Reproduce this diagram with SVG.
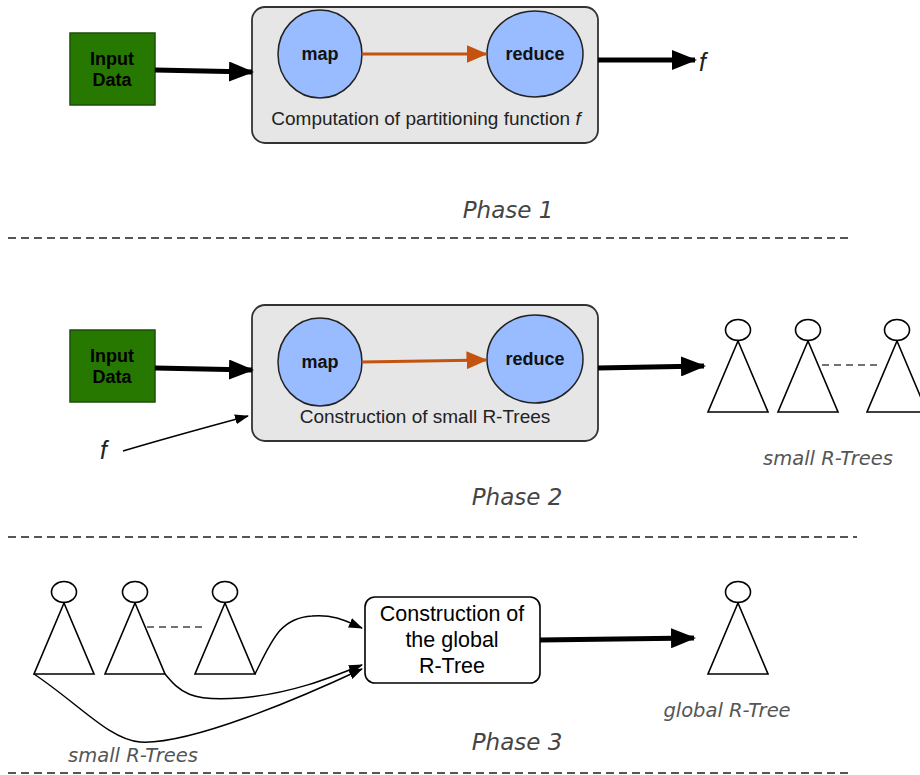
<svg xmlns="http://www.w3.org/2000/svg" width="920" height="775" viewBox="0 0 920 775">
<style>
.bg{fill:#fff}
.green{fill:#267800;stroke:#1d4d0a;stroke-width:1.5}
.gtxt{font-family:"Liberation Sans",Arial,sans-serif;font-weight:bold;font-size:18px;fill:#000;text-anchor:middle}
.box{fill:#e6e6e6;stroke:#333;stroke-width:1.8}
.ell{fill:#99bbff;stroke:#222;stroke-width:1.5}
.etxt{font-family:"Liberation Sans",Arial,sans-serif;font-weight:bold;font-size:18px;fill:#111;text-anchor:middle}
.btxt{font-family:"Liberation Sans",Arial,sans-serif;font-size:19px;fill:#222;text-anchor:middle}
.thick{stroke:#000;stroke-width:5;fill:none}
.orange{stroke:#c4530f;stroke-width:3;fill:none}
.thin{stroke:#000;stroke-width:1.5;fill:none}
.dash{stroke:#555;stroke-width:2;stroke-dasharray:8 5;fill:none}
.tree{fill:#fff;stroke:#000;stroke-width:1.6}
.tdash{stroke:#444;stroke-width:1.6;stroke-dasharray:7 5;fill:none}
.phase{font-family:"DejaVu Sans",Verdana,sans-serif;font-style:italic;font-size:23px;fill:#444;text-anchor:middle}
.cap{font-family:"DejaVu Sans",Verdana,sans-serif;font-style:italic;font-size:19.5px;fill:#555;text-anchor:middle}
.fit{font-family:"Liberation Sans",Arial,sans-serif;font-style:italic;font-size:25px;fill:#222}
.rbox{fill:#fff;stroke:#000;stroke-width:1.6}
.rtxt{font-family:"Liberation Sans",Arial,sans-serif;font-size:21.5px;fill:#000;text-anchor:middle}
</style>
<defs>
<marker id="big" markerWidth="5" markerHeight="4" refX="4.6" refY="2" orient="auto" markerUnits="strokeWidth"><path d="M0,0 L5,2 L0,4 Z" fill="#000"/></marker>
<marker id="org" markerWidth="7" markerHeight="6" refX="6.5" refY="3" orient="auto" markerUnits="strokeWidth"><path d="M0,0 L7,3 L0,6 Z" fill="#c4530f"/></marker>
<marker id="sm" markerWidth="14" markerHeight="10" refX="13" refY="5" orient="auto" markerUnits="userSpaceOnUse"><path d="M0,0 L14,5 L0,10 Z" fill="#000"/></marker>
<symbol id="tri" overflow="visible"><ellipse cx="0" cy="-11" rx="12.5" ry="10.5" class="tree"/><path d="M0,0 L-30,71 L30,71 Z" class="tree"/></symbol>
</defs>
<rect class="bg" width="920" height="775"/>

<g id="phase1">
<g id="input1"><rect class="green" x="70" y="33" width="85" height="72"/><text class="gtxt" x="112" y="65">Input</text><text class="gtxt" x="112" y="86">Data</text></g>
<g id="box1"><rect class="box" x="252" y="7" width="346" height="136" rx="13"/><text class="btxt" x="426" y="125">Computation of partitioning function <tspan font-style="italic">f</tspan></text></g>
<g id="map1"><ellipse class="ell" cx="320" cy="54" rx="42" ry="44"/><text class="etxt" x="320" y="60">map</text></g>
<g id="reduce1"><ellipse class="ell" cx="535" cy="54" rx="48" ry="43"/><text class="etxt" x="535" y="60">reduce</text></g>
<g id="f1"><text class="fit" x="699" y="71">f</text></g>
<g id="phase1label"><text class="phase" x="508" y="218">Phase 1</text></g>
</g>

<g id="phase2">
<g id="input2"><rect class="green" x="70" y="330" width="85" height="72"/><text class="gtxt" x="112" y="362">Input</text><text class="gtxt" x="112" y="383">Data</text></g>
<g id="box2"><rect class="box" x="252" y="305" width="346" height="136" rx="13"/><text class="btxt" x="425" y="423">Construction of small R-Trees</text></g>
<g id="map2"><ellipse class="ell" cx="320" cy="362" rx="42" ry="44"/><text class="etxt" x="320" y="368">map</text></g>
<g id="reduce2"><ellipse class="ell" cx="535" cy="359" rx="48" ry="44"/><text class="etxt" x="535" y="365">reduce</text></g>
<g id="f2"><text class="fit" x="100" y="459">f</text></g>
<g id="smalltrees2"><use href="#tri" x="738" y="341"/><use href="#tri" x="808" y="341"/><use href="#tri" x="897" y="341"/><text class="cap" x="828" y="465">small R-Trees</text></g>
<g id="phase2label"><text class="phase" x="517" y="505">Phase 2</text></g>
</g>

<g id="phase3">
<g id="smalltrees3"><use href="#tri" x="64" y="603"/><use href="#tri" x="135" y="603"/><use href="#tri" x="225" y="603"/><text class="cap" x="133" y="762">small R-Trees</text></g>
<g id="globalbox"><rect class="rbox" x="365" y="597" width="175" height="86" rx="10"/><text class="rtxt" x="452" y="621">Construction of</text><text class="rtxt" x="452" y="647">the global</text><text class="rtxt" x="452" y="673">R-Tree</text></g>
<g id="globaltree"><use href="#tri" x="738" y="603"/><text class="cap" x="727" y="717">global R-Tree</text></g>
<g id="phase3label"><text class="phase" x="517" y="750">Phase 3</text></g>
</g>

<g id="connectors">
<line class="thick" x1="155" y1="70" x2="252" y2="72" marker-end="url(#big)"/>
<line class="orange" x1="362" y1="54" x2="486" y2="54" marker-end="url(#org)"/>
<line class="thick" x1="598" y1="60" x2="695" y2="60" marker-end="url(#big)"/>
<line class="thick" x1="155" y1="368" x2="252" y2="370" marker-end="url(#big)"/>
<line class="orange" x1="362" y1="362" x2="486" y2="360" marker-end="url(#org)"/>
<line class="thick" x1="598" y1="368" x2="704" y2="366" marker-end="url(#big)"/>
<path class="thin" d="M123,451 Q170,437 248,416" marker-end="url(#sm)"/>
<line class="tdash" x1="822" y1="365" x2="882" y2="365"/>
<line class="tdash" x1="147" y1="627" x2="205" y2="627"/>
<line class="thick" x1="540" y1="640" x2="694" y2="638" marker-end="url(#big)"/>
<path class="thin" d="M255,674 C272,640 280,618 312,616 C335,614 348,622 362,628" marker-end="url(#sm)"/>
<path class="thin" d="M165,674 C180,692 190,702 240,698 C290,694 330,678 362,665" marker-end="url(#sm)"/>
<path class="thin" d="M34,674 C80,705 110,740 140,742 C190,745 300,698 362,669" marker-end="url(#sm)"/>
<line class="dash" x1="8" y1="238" x2="848" y2="238"/>
<line class="dash" x1="8" y1="537" x2="857" y2="537"/>
<line class="dash" x1="8" y1="773" x2="853" y2="773"/>
</g>
</svg>
